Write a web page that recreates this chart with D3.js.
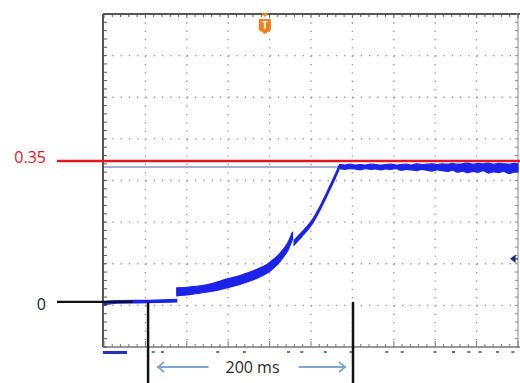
<!DOCTYPE html>
<html>
<head>
<meta charset="utf-8">
<script src="https://cdn.jsdelivr.net/npm/d3@7"></script>
<style>
  body { margin: 0; background: #fff; }
  svg { display: block; font-family: 'Open Sans', 'Liberation Sans', sans-serif; }
</style>
</head>
<body>
<div id="chart"></div>
<script>
// scope capture: time in ms (0 = first marker), level in V
const timeDomain = [-43, 361];
const levelDomain = [-0.112, 0.715];

// trace envelope segments: [t, low, high]
const flatSeg = [[-43, -0.007, 0.001], [-30, -0.003, 0.003], [0, -0.002, 0.004], [28, 0.0, 0.006]];
const curveSeg = [
  [28, 0.015, 0.035], [40, 0.018, 0.037], [51, 0.022, 0.040], [64, 0.027, 0.047],
  [77, 0.035, 0.057], [89, 0.043, 0.065], [99.5, 0.052, 0.074], [109, 0.062, 0.084],
  [116, 0.071, 0.093], [122, 0.083, 0.105], [127, 0.095, 0.116], [132, 0.111, 0.131],
  [137, 0.131, 0.150], [141, 0.156, 0.174]
];
const rampSeg = [
  [142.5, 0.141, 0.153], [150, 0.162, 0.173], [161, 0.197, 0.207], [168, 0.229, 0.239],
  [177.5, 0.279, 0.289], [183, 0.309, 0.319], [187, 0.333, 0.342]
];
const plateauT = [187, 192, 197, 202, 207, 212, 217, 222, 227, 232, 237, 242, 247, 252, 257, 262, 267, 272,
  277, 282, 287, 292, 297, 302, 307, 312, 317, 322, 327, 332, 337, 342, 347, 352, 357, 361];
const plateauLo = [0.331, 0.329, 0.331, 0.330, 0.328, 0.331, 0.329, 0.330, 0.328, 0.330, 0.329, 0.331,
  0.327, 0.329, 0.328, 0.326, 0.329, 0.327, 0.325, 0.328, 0.326, 0.324, 0.327, 0.322, 0.325, 0.321,
  0.324, 0.322, 0.326, 0.320, 0.323, 0.321, 0.324, 0.319, 0.322, 0.323];
const plateauHi = [0.341, 0.340, 0.342, 0.340, 0.341, 0.340, 0.342, 0.341, 0.340, 0.341, 0.342, 0.340,
  0.341, 0.342, 0.340, 0.343, 0.341, 0.342, 0.343, 0.341, 0.343, 0.342, 0.344, 0.342, 0.343, 0.345,
  0.342, 0.344, 0.343, 0.345, 0.342, 0.344, 0.343, 0.342, 0.344, 0.343];

const threshold = 0.35;
const thresholdLabel = '0.35';
const zeroLabel = '0';
const cursorLevel = 0.335;
const markerTimes = [0, 200];
const spanLabel = '200 ms';
const triggerTime = 114;
const refLevel = 0.107;
// readout specks under the axis (ms)
const statusTimes = [5, 14, 68, 94, 137, 150, 173, 198, 233, 248, 280, 298, 313, 324, 341, 356];

const width = 520, height = 383;
const plot = { left: 104, top: 14, right: 518, bottom: 347 };
const xDivs = 10, yDivs = 8;

const x = d3.scaleLinear().domain(timeDomain).range([plot.left, plot.right]);
const y = d3.scaleLinear().domain(levelDomain).range([plot.bottom, plot.top]);

const svg = d3.select('#chart').append('svg')
  .attr('width', width)
  .attr('height', height);

svg.append('defs').append('filter').attr('id', 'soft')
  .append('feGaussianBlur').attr('stdDeviation', 0.6);

// graticule
const dx = (plot.right - plot.left) / xDivs;
const dy = (plot.bottom - plot.top) / yDivs;
const grid = svg.append('g').attr('stroke', '#8f8f8f').attr('stroke-width', 1.3);
grid.selectAll('.gv').data(d3.range(1, xDivs)).join('line')
  .attr('x1', (k) => plot.left + k * dx).attr('x2', (k) => plot.left + k * dx)
  .attr('y1', plot.top).attr('y2', plot.bottom)
  .attr('stroke-dasharray', `1.3,${dy / 5 - 1.3}`);
grid.selectAll('.gh').data(d3.range(1, yDivs)).join('line')
  .attr('y1', (k) => plot.top + k * dy).attr('y2', (k) => plot.top + k * dy)
  .attr('x1', plot.left).attr('x2', plot.right)
  .attr('stroke-dasharray', `1.3,${dx / 5 - 1.3}`);

// frame and minor ticks
const frame = svg.append('g').attr('stroke', '#555');
frame.append('line').attr('x1', plot.left - 1).attr('x2', 520).attr('y1', plot.top).attr('y2', plot.top).attr('stroke-width', 2);
frame.append('line').attr('x1', plot.left - 1).attr('x2', plot.left - 1).attr('y1', plot.top).attr('y2', plot.bottom).attr('stroke-width', 2);
frame.append('line').attr('x1', plot.left - 1).attr('x2', 520).attr('y1', plot.bottom).attr('y2', plot.bottom).attr('stroke-width', 1.5).attr('stroke', '#777');
frame.append('line').attr('x1', plot.right).attr('x2', plot.right).attr('y1', plot.top).attr('y2', plot.bottom).attr('stroke-width', 1).attr('stroke', '#888');

const hTicks = d3.range(0, xDivs * 5 + 1);
const vTicks = d3.range(0, yDivs * 5 + 1);
frame.selectAll('.tt').data(hTicks).join('line')
  .attr('x1', (k) => plot.left + k * dx / 5).attr('x2', (k) => plot.left + k * dx / 5)
  .attr('y1', plot.top).attr('y2', (k) => plot.top + (k % 5 === 0 ? 4 : 3))
  .attr('stroke-width', 1);
frame.selectAll('.bt').data(hTicks).join('line')
  .attr('x1', (k) => plot.left + k * dx / 5).attr('x2', (k) => plot.left + k * dx / 5)
  .attr('y1', plot.bottom).attr('y2', (k) => plot.bottom - (k % 5 === 0 ? 6 : 3))
  .attr('stroke', '#777').attr('stroke-width', 1);
frame.selectAll('.lt').data(vTicks).join('line')
  .attr('y1', (k) => plot.top + k * dy / 5).attr('y2', (k) => plot.top + k * dy / 5)
  .attr('x1', plot.left - 1).attr('x2', plot.left + 3)
  .attr('stroke-width', 1);
frame.selectAll('.rt').data(vTicks).join('line')
  .attr('y1', (k) => plot.top + k * dy / 5).attr('y2', (k) => plot.top + k * dy / 5)
  .attr('x1', plot.right).attr('x2', plot.right - 3)
  .attr('stroke', '#888').attr('stroke-width', 1);

// status marks under the axis
svg.append('rect').attr('x', plot.left - 1).attr('y', 351).attr('width', 24).attr('height', 3).attr('fill', '#2233bb');
svg.selectAll('.st').data(statusTimes).join('rect')
  .attr('x', (d) => x(d) - 1.5).attr('y', 351)
  .attr('width', 3).attr('height', 2)
  .attr('fill', (d, i) => (i === 11 ? '#4455bb' : '#777'));

// cursor level
svg.append('line')
  .attr('x1', plot.left).attr('x2', plot.right)
  .attr('y1', y(cursorLevel)).attr('y2', y(cursorLevel))
  .attr('stroke', '#5a5aa8').attr('stroke-width', 1.2);

// trace
const band = d3.area()
  .x((d) => x(d[0]))
  .y0((d) => y(d[1]))
  .y1((d) => y(d[2]))
  .curve(d3.curveMonotoneX);
const plateauSeg = plateauT.map((t, i) => [t, plateauLo[i], plateauHi[i]]);
const trace = svg.append('g').attr('filter', 'url(#soft)');
trace.selectAll('path').data([flatSeg, curveSeg, rampSeg, plateauSeg]).join('path')
  .attr('d', band)
  .attr('fill', '#1b24e8')
  .attr('stroke', '#1b24e8')
  .attr('stroke-width', 1.2);

// threshold line
svg.append('line')
  .attr('x1', 57).attr('x2', width)
  .attr('y1', y(threshold)).attr('y2', y(threshold))
  .attr('stroke', '#e3161d').attr('stroke-width', 2.5);
svg.append('text')
  .attr('x', 46).attr('y', y(threshold) + 2)
  .attr('text-anchor', 'end')
  .attr('font-size', 16)
  .attr('fill', '#e3161d')
  .text(thresholdLabel);

// zero marker
svg.append('line')
  .attr('x1', 57).attr('x2', 133)
  .attr('y1', y(0)).attr('y2', y(0))
  .attr('stroke', '#111').attr('stroke-width', 2.2);
svg.append('text')
  .attr('x', 46).attr('y', y(0) + 8)
  .attr('text-anchor', 'end')
  .attr('font-size', 16)
  .attr('fill', '#222')
  .text(zeroLabel);

// time markers
svg.selectAll('.mk').data(markerTimes).join('line')
  .attr('x1', (d) => x(d)).attr('x2', (d) => x(d))
  .attr('y1', y(0)).attr('y2', height)
  .attr('stroke', '#111').attr('stroke-width', 2.5);

// span arrows
const mid = (x(markerTimes[0]) + x(markerTimes[1])) / 2;
const ay = 367;
const arrows = svg.append('g').attr('stroke', '#7fa6d3').attr('stroke-width', 1.8).attr('fill', 'none');
arrows.append('line').attr('x1', x(markerTimes[0]) + 9).attr('x2', mid - 42).attr('y1', ay).attr('y2', ay);
arrows.append('polyline').attr('points', `${x(markerTimes[0]) + 16},${ay - 5} ${x(markerTimes[0]) + 10},${ay} ${x(markerTimes[0]) + 16},${ay + 5}`);
arrows.append('line').attr('x1', mid + 48).attr('x2', x(markerTimes[1]) - 7).attr('y1', ay).attr('y2', ay);
arrows.append('polyline').attr('points', `${x(markerTimes[1]) - 14},${ay - 5} ${x(markerTimes[1]) - 8},${ay} ${x(markerTimes[1]) - 14},${ay + 5}`);
svg.append('text')
  .attr('x', mid + 2).attr('y', ay + 6)
  .attr('text-anchor', 'middle')
  .attr('font-size', 16)
  .attr('fill', '#2a2a2a')
  .text(spanLabel);

// trigger badge
const tx = x(triggerTime);
const trig = svg.append('g').attr('fill', '#f27e1c');
trig.append('path').attr('d', `M${tx - 4},${plot.top - 1} L${tx + 4},${plot.top - 1} L${tx},${plot.top + 3} Z`);
trig.append('path').attr('d', `M${tx - 6},${plot.top + 5} h12 v11 l-6,4 l-6,-4 Z`);
svg.append('text')
  .attr('x', tx).attr('y', plot.top + 15)
  .attr('text-anchor', 'middle')
  .attr('font-size', 10).attr('font-weight', 'bold')
  .attr('fill', '#fff')
  .text('T');

// reference level marker on the right
const ry = y(refLevel);
svg.append('path')
  .attr('d', `M${plot.right - 7},${ry} L${plot.right - 3},${ry - 3} L${plot.right - 3},${ry + 3} Z M${plot.right - 4},${ry} H${plot.right}`)
  .attr('fill', '#1c2a8c').attr('stroke', '#1c2a8c').attr('stroke-width', 1.2);
</script>
</body>
</html>
